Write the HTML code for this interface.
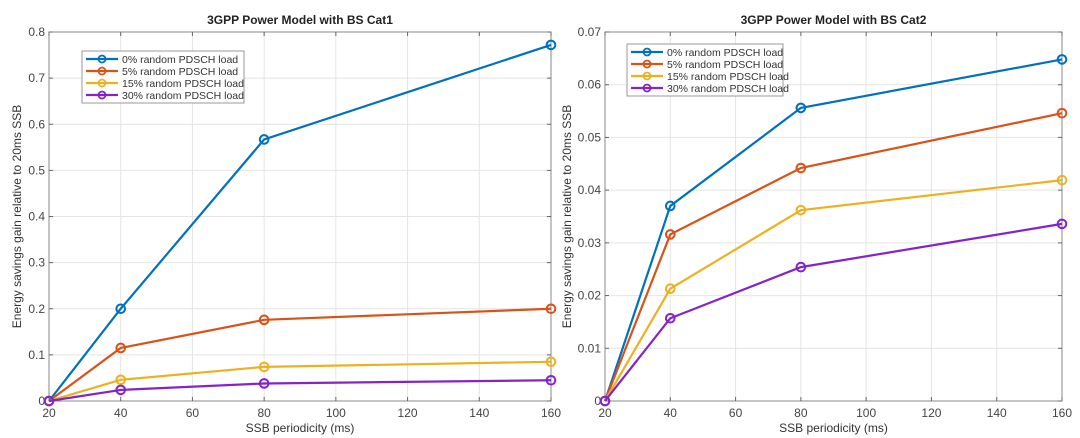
<!DOCTYPE html>
<html><head><meta charset="utf-8">
<style>
html,body{margin:0;padding:0;background:#fff;}
svg{display:block;font-family:"Liberation Sans",Arial,sans-serif;}
</style></head>
<body>
<svg id="chart" width="1080" height="438" viewBox="0 0 1080 438"></svg>
<script>
const xCategories = [20, 40, 80, 160];
const seriesNames = ["0% random PDSCH load","5% random PDSCH load","15% random PDSCH load","30% random PDSCH load"];
const leftSeries0 = [0, 0.200, 0.567, 0.772];
const leftSeries5 = [0, 0.115, 0.176, 0.200];
const leftSeries15 = [0, 0.046, 0.074, 0.085];
const leftSeries30 = [0, 0.024, 0.038, 0.045];
const rightSeries0 = [0, 0.0370, 0.0556, 0.0648];
const rightSeries5 = [0, 0.0316, 0.0442, 0.0546];
const rightSeries15 = [0, 0.0213, 0.0362, 0.0419];
const rightSeries30 = [0, 0.0157, 0.0254, 0.0336];
const xTicks = [20,40,60,80,100,120,140,160];
const leftYTicks = [0,0.1,0.2,0.3,0.4,0.5,0.6,0.7,0.8];
const leftYLabels = ["0","0.1","0.2","0.3","0.4","0.5","0.6","0.7","0.8"];
const rightYTicks = [0,0.01,0.02,0.03,0.04,0.05,0.06,0.07];
const rightYLabels = ["0","0.01","0.02","0.03","0.04","0.05","0.06","0.07"];
const colors = ["#0072BD","#D95319","#EDB120","#8424C8"];

const NS="http://www.w3.org/2000/svg";
const svg=document.getElementById('chart');
function mk(tag,attrs,parent,text){const e=document.createElementNS(NS,tag);for(const k in attrs)e.setAttribute(k,attrs[k]);if(text!==undefined)e.textContent=text;(parent||svg).appendChild(e);return e;}

function drawPanel(cfg){
  const g=mk('g',{});
  
  
  const {x0,x1,y0,y1,ymax}=cfg;
  const sx=v=>x0+(v-20)/(160-20)*(x1-x0);
  const sy=v=>y0-(v/ymax)*(y0-y1);
  // grid
  xTicks.forEach(t=>{const l=mk('line',{x1:sx(t),x2:sx(t),y1:y1,y2:y0,stroke:'#e4e4e4','stroke-width':1},g);});
  cfg.yTicks.forEach(t=>{const l=mk('line',{x1:x0,x2:x1,y1:sy(t),y2:sy(t),stroke:'#e4e4e4','stroke-width':1},g);});
  // axes box
  const box=mk('rect',{x:x0,y:y1,width:x1-x0,height:y0-y1,fill:'none',stroke:'#8a8a8a','stroke-width':1},g);
  
  // ticks & labels
  xTicks.forEach(t=>{
    mk('line',{x1:sx(t),x2:sx(t),y1:y0,y2:y0-4,stroke:'#666'},g);
    mk('line',{x1:sx(t),x2:sx(t),y1:y1,y2:y1+4,stroke:'#666'},g);
    const tx=mk('text',{x:sx(t),y:y0+16,'font-size':12,fill:'#444','text-anchor':'middle'},g,String(t));
    
  });
  cfg.yTicks.forEach((t,i)=>{
    mk('line',{x1:x0,x2:x0+4,y1:sy(t),y2:sy(t),stroke:'#666'},g);
    mk('line',{x1:x1,x2:x1-4,y1:sy(t),y2:sy(t),stroke:'#666'},g);
    const tx=mk('text',{x:x0-4,y:sy(t)+4,'font-size':12,fill:'#444','text-anchor':'end'},g,cfg.yLabels[i]);
    
  });
  const title=mk('text',{x:(x0+x1)/2,y:y1-8,'font-size':12,'font-weight':'bold',fill:'#222','text-anchor':'middle'},g,cfg.title);
  
  const xl=mk('text',{x:(x0+x1)/2,y:y0+31,'font-size':12,fill:'#333','text-anchor':'middle'},g,'SSB periodicity (ms)');
  
  const yl=mk('text',{x:0,y:0,'font-size':12,fill:'#333','text-anchor':'middle',transform:`translate(${cfg.ylx},${(y0+y1)/2}) rotate(-90)`},g,'Energy savings gain relative to 20ms SSB');
  
  // series
  cfg.series.forEach((s,si)=>{
    const pts=s.map((v,i)=>sx(xCategories[i])+','+sy(v)).join(' ');
    const pl=mk('polyline',{points:pts,fill:'none',stroke:colors[si],'stroke-width':2.2},g);
    
    s.forEach((v,i)=>{
      const c=mk('circle',{cx:sx(xCategories[i]),cy:sy(v),r:4.3,fill:'none',stroke:colors[si],'stroke-width':2},g);
      
    });
  });
  // legend
  const lg=mk('g',{},g);
  
  mk('rect',{x:cfg.lx,y:cfg.ly,width:cfg.lw,height:52,fill:'#fff',stroke:'#999','stroke-width':1},lg);
  seriesNames.forEach((n,i)=>{
    const yy=cfg.ly+8+i*12;
    mk('line',{x1:cfg.lx+4,x2:cfg.lx+36,y1:yy,y2:yy,stroke:colors[i],'stroke-width':2.2},lg);
    mk('circle',{cx:cfg.lx+20,cy:yy,r:3.5,fill:'none',stroke:colors[i],'stroke-width':1.8},lg);
    const t=mk('text',{x:cfg.lx+40,y:yy+4,'font-size':10.5,fill:'#333'},lg,n);
    
  });
}
drawPanel({name:'left-chart',title:'3GPP Power Model with BS Cat1',x0:49,x1:551,y0:401,y1:32,ymax:0.8,yTicks:leftYTicks,yLabels:leftYLabels,series:[leftSeries0,leftSeries5,leftSeries15,leftSeries30],lx:82,ly:51,lw:162,ylx:21});
drawPanel({name:'right-chart',title:'3GPP Power Model with BS Cat2',x0:605,x1:1062,y0:401,y1:32,ymax:0.07,yTicks:rightYTicks,yLabels:rightYLabels,series:[rightSeries0,rightSeries5,rightSeries15,rightSeries30],lx:627,ly:44,lw:156,ylx:571});
</script>
</body></html>
